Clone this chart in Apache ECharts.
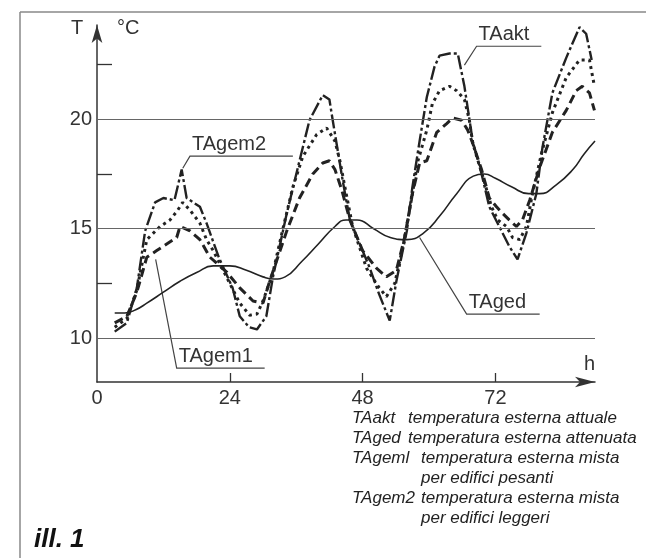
<!DOCTYPE html>
<html>
<head>
<meta charset="utf-8">
<script src="https://cdn.jsdelivr.net/npm/echarts@6/dist/echarts.min.js"></script>
<style>
  html, body { margin: 0; padding: 0; background: #fff; }
  #chart { width: 646px; height: 558px; }
</style>
</head>
<body>
<div id="chart"></div>
<script>
// hours / temperature pairs
var taAkt = [[3.2,10.3],[5.4,10.7],[7.2,12.3],[8.7,14.9],[10.5,16.2],[12,16.4],[14,16.3],[15.3,17.7],[16.2,16.4],[18.6,16.0],[19.8,15.25],
  [22,13.7],[24.5,12.3],[25.8,11.0],[27.5,10.5],[28.9,10.4],[30.6,11.0],[31.8,12.8],[34.3,15.7],[36.5,18.0],[38.4,19.95],[40.8,21.1],
  [42,20.9],[42.6,19.95],[44.4,17.2],[45.7,15.4],[49.3,13.2],[51,12.0],[52.9,10.8],[54.1,12.6],[56,14.9],[57,16.9],[58.3,19.0],
  [59.6,21.0],[61,22.4],[61.9,22.9],[63.7,23.0],[65.2,23.0],[66.4,21.5],[67.9,19.0],[69.5,17.5],[70.9,16.0],[72.7,15.1],[74.5,14.2],
  [76,13.6],[77.6,14.8],[79.4,16.6],[80.5,18.7],[82.3,21.2],[84.8,22.8],[87.2,24.2],[88.4,23.9],[89.4,22.7]];
var taGem2 = [[3.2,10.5],[5.4,10.9],[7.2,12.2],[9,14.5],[11.4,15.1],[13.2,15.4],[14.6,15.85],[15.5,16.2],[16.8,15.85],[18.6,15.25],
  [19.8,14.5],[21,14.0],[24,12.5],[25.8,11.6],[27.6,11.05],[28.9,11.1],[30,11.7],[31.8,13.0],[33.6,15.0],[35.4,16.9],[37.2,18.3],
  [39.7,19.3],[41.5,19.6],[43,19.0],[43.9,18.1],[44.8,16.9],[46.2,15.1],[48.7,13.2],[51,12.3],[52.3,11.9],[53.8,12.5],[55.3,14.2],
  [56.8,16.3],[58,18.1],[59.6,19.5],[60.6,20.7],[61.9,21.3],[63.7,21.5],[65,21.3],[66.4,20.9],[67.3,19.95],[67.9,18.9],[69.7,17.4],
  [71.3,16.0],[72.4,15.4],[74,15.1],[75.1,14.6],[76.4,14.5],[77.6,15.1],[78.7,16.6],[80.3,18.4],[82.3,20.3],[84.8,21.9],[87.2,22.7],
  [89,22.7],[89.9,21.5]];
var taGem1 = [[3.2,10.7],[5.4,11.0],[7.2,12.1],[9,13.7],[10.8,14.0],[12.6,14.3],[14.4,14.6],[15,15.1],[16.8,14.9],[18.6,14.5],[20.4,13.7],
  [23.5,13.0],[25.8,12.3],[28.2,11.7],[30,11.6],[31.2,12.6],[34.3,14.9],[36.6,16.4],[39,17.5],[40.8,18.0],[42,18.1],[43,17.7],[44.2,16.8],
  [45.7,15.4],[48,14.0],[50.5,13.2],[52.3,12.8],[54.1,13.1],[55.6,14.6],[57,16.6],[58.3,18.0],[59.6,18.1],[61.4,19.4],[63.2,19.8],
  [64.3,20.05],[65.9,19.95],[67,19.5],[67.9,18.9],[69.5,17.7],[70.9,16.4],[72.2,16.0],[73.3,15.7],[74.5,15.4],[75.8,15.1],[76.9,15.4],
  [78.2,16.3],[80,17.8],[82.3,19.4],[84.8,20.4],[86.6,21.3],[87.7,21.5],[89,21.2],[89.9,20.4]];
var taGed = [[3.2,11.15],[5,11.15],[7,11.3],[9,11.6],[12,12.1],[15,12.6],[18,13.0],[21,13.3],[24,13.3],[27,13.1],[30,12.8],[32,12.7],
  [34,12.8],[37,13.5],[40,14.3],[43,15.1],[45,15.4],[47,15.4],[50,15.0],[53,14.6],[56,14.5],[59,14.8],[62,15.6],[65,16.6],[68,17.4],
  [70,17.5],[72,17.3],[75,16.9],[78,16.6],[80,16.6],[83,17.0],[86,17.7],[88,18.4],[90,19.0]];

var xLabels = [0, 24, 48, 72];
var yLabels = [10, 15, 20];
var yMinorTicks = [12.5, 17.5, 22.5];

var legendRows = [
  ['TAakt', 'temperatura esterna attuale'],
  ['TAged', 'temperatura esterna attenuata'],
  ['TAgeml', 'temperatura esterna mista'],
  ['', 'per edifici pesanti'],
  ['TAgem2', 'temperatura esterna mista'],
  ['', 'per edifici leggeri']
];

// curve labels: name, text anchor [h, T], underline end h, point on curve [h, T]
var curveLabels = [
  ['TAgem2', [16.8, 18.31], 35.4, [15.5, 17.76]],
  ['TAakt', [68.6, 23.33], 80.3, [66.4, 22.47]],
  ['TAged', [66.8, 11.1], 80.0, [58.3, 14.6]],
  ['TAgem1', [14.4, 8.63], 30.3, [10.6, 13.6]]
];

var ink = '#222';
var font = 'Liberation Sans, DejaVu Sans, sans-serif';

var chart = echarts.init(document.getElementById('chart'), null, {renderer: 'canvas'});

function curve(name, data, lineStyle, smooth) {
  return {
    name: name,
    type: 'line',
    data: data,
    symbol: 'none',
    smooth: smooth,
    silent: true,
    lineStyle: lineStyle
  };
}

var series = [
  curve('TAged', taGed, {color: ink, width: 1.6, type: 'solid'}, 0.5),
  curve('TAgem1', taGem1, {color: ink, width: 3, type: [9, 5]}, false),
  curve('TAgem2', taGem2, {color: ink, width: 3, type: [3, 4]}, false),
  curve('TAakt', taAkt, {color: ink, width: 2.4, type: [14, 3, 3, 3]}, false)
];
series[0].markLine = {
  silent: true,
  symbol: 'none',
  label: {show: false},
  lineStyle: {color: '#666', width: 1.2, type: 'solid'},
  data: yLabels.map(function (v) { return {yAxis: v}; })
};

chart.setOption({
  backgroundColor: '#fff',
  animation: false,
  grid: {left: 97, right: 51, top: 25, bottom: 176},
  xAxis: {
    type: 'value',
    min: 0,
    max: 90,
    axisLine: {lineStyle: {color: '#333', width: 1.5}, symbol: ['none', 'arrow'], symbolSize: [8, 20]},
    axisTick: {show: true, inside: true, length: 9, customValues: [24, 48, 72], lineStyle: {color: '#333', width: 1.3}},
    axisLabel: {customValues: xLabels, fontSize: 20, color: '#333', fontFamily: font, margin: 6},
    splitLine: {show: false}
  },
  yAxis: {
    type: 'value',
    min: 8,
    max: 24.3,
    axisLine: {show: true, lineStyle: {color: '#333', width: 1.5}, symbol: ['none', 'arrow'], symbolSize: [8, 18]},
    axisTick: {show: true, inside: true, length: 15, customValues: yMinorTicks, lineStyle: {color: '#333', width: 1.3}},
    axisLabel: {customValues: yLabels, fontSize: 20, color: '#333', fontFamily: font, margin: 5},
    splitLine: {show: false}
  },
  series: series
});

// annotations, placed from data coordinates
var graphics = [
  {type: 'line', shape: {x1: 20, y1: 12, x2: 646, y2: 12}, style: {stroke: '#888', lineWidth: 1.5}},
  {type: 'line', shape: {x1: 20, y1: 12, x2: 20, y2: 558}, style: {stroke: '#888', lineWidth: 1.5}},
  {type: 'text', left: 71, top: 18, style: {text: 'T', font: '20px ' + font, fill: '#333'}},
  {type: 'text', left: 117, top: 18, style: {text: '°C', font: '20px ' + font, fill: '#333'}},
  {type: 'text', left: 584, top: 354, style: {text: 'h', font: '20px ' + font, fill: '#333'}},
  {type: 'text', left: 34, top: 527, style: {text: 'ill. 1', font: 'italic bold 26px Liberation Sans Narrow, Liberation Sans, sans-serif', fill: '#111'}}
];

curveLabels.forEach(function (c) {
  var a = chart.convertToPixel({gridIndex: 0}, c[1]);
  var b = chart.convertToPixel({gridIndex: 0}, [c[2], c[1][1]]);
  var p = chart.convertToPixel({gridIndex: 0}, c[3]);
  graphics.push({type: 'polyline', shape: {points: [p, a, b]}, style: {stroke: '#444', lineWidth: 1.2, fill: null}});
  graphics.push({type: 'text', x: a[0] + 2, y: a[1] - 2, style: {text: c[0], font: '20px ' + font, fill: '#333', textVerticalAlign: 'bottom'}});
});

legendRows.forEach(function (r, i) {
  var y = 418 + i * 20;
  var descX = i < 2 ? 408 : 421;
  if (r[0]) {
    graphics.push({type: 'text', x: 352, y: y, style: {text: r[0], font: 'italic 17px ' + font, fill: '#222', textVerticalAlign: 'middle'}});
  }
  graphics.push({type: 'text', x: descX, y: y, style: {text: r[1], font: 'italic 17px ' + font, fill: '#222', textVerticalAlign: 'middle'}});
});

chart.setOption({graphic: graphics});
</script>
</body>
</html>
